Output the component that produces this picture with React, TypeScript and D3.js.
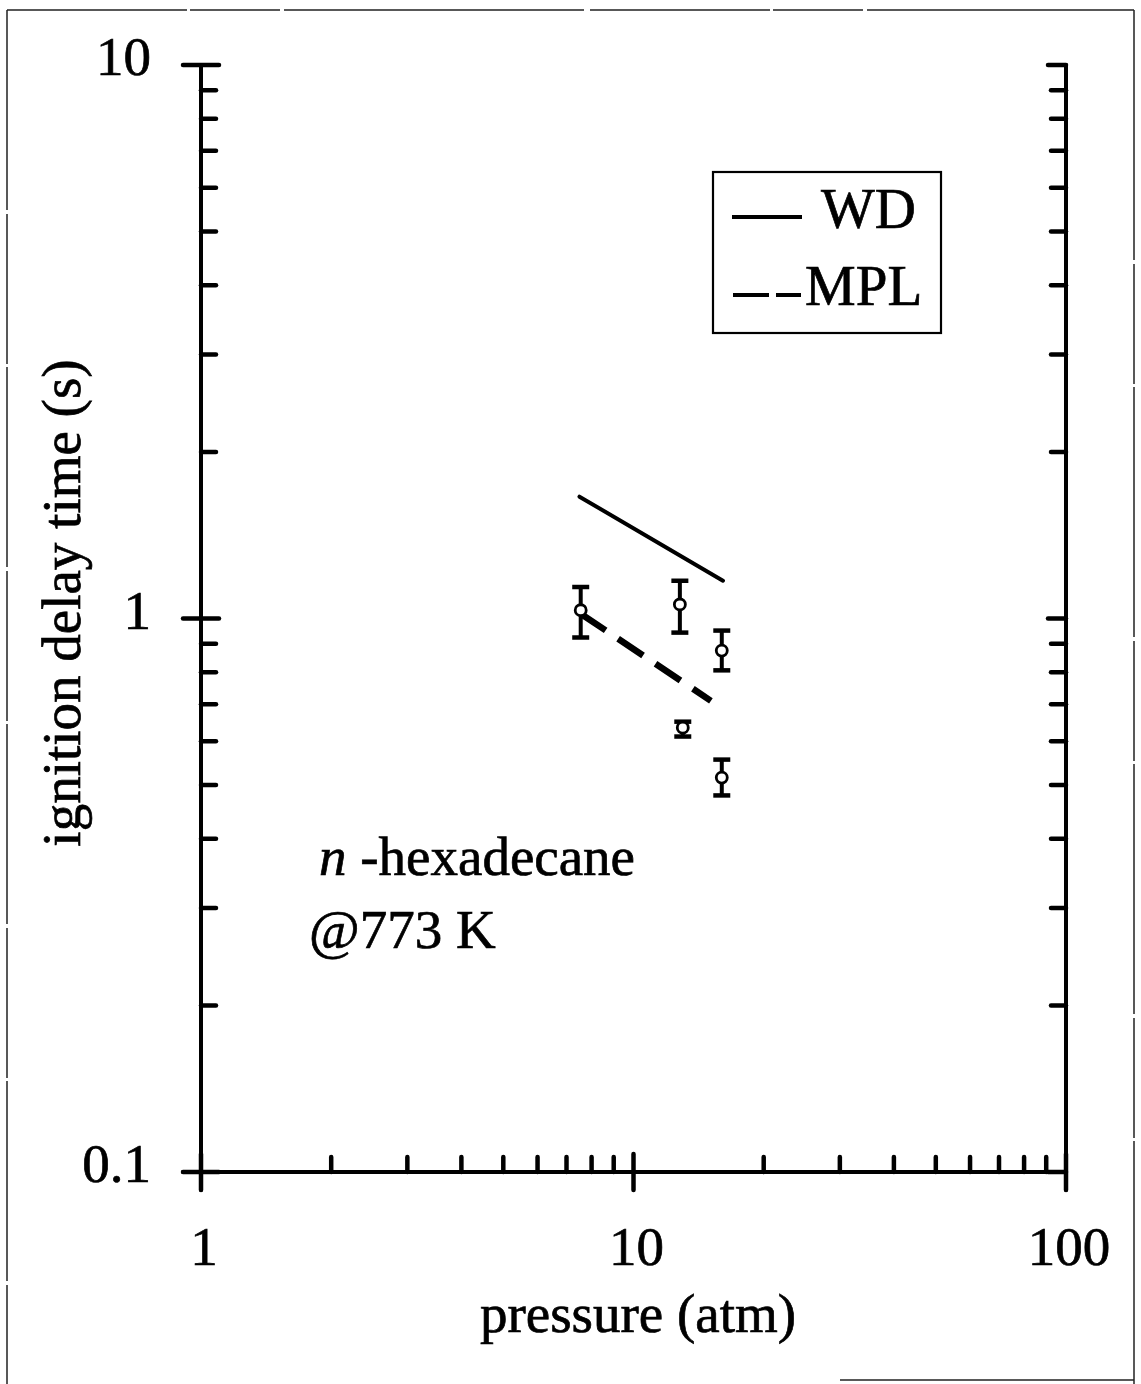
import React from "react";
import * as d3 from "d3";

const W = 1141;
const H = 1384;

// Model curves (pressure atm, ignition delay s)
const wdPressure = [7.5, 16.1];
const wdDelay = [1.66, 1.17];
const mplPressure = [7.55, 15.1];
const mplDelay = [1.02, 0.71];

// Experimental data with error bars
const expPressure = [7.55, 12.8, 16.0, 13.0, 16.0];
const expDelay = [1.035, 1.06, 0.875, 0.635, 0.516];
const expHigh = [1.14, 1.17, 0.951, 0.651, 0.556];
const expLow = [0.924, 0.943, 0.806, 0.612, 0.479];

const xMajor = [1, 10, 100];
const yMajor = [0.1, 1, 10];
const xTickLabels = ["1", "10", "100"];
const yTickLabels = ["0.1", "1", "10"];

const legendNames = ["WD", "MPL"];

const FONT = "'Liberation Serif', 'Times New Roman', serif";

export default function App() {
  const x = d3.scaleLog().domain([1, 100]).range([201, 1066]);
  const y = d3.scaleLog().domain([0.1, 10]).range([1172, 65]);

  const x0 = x(1);
  const x1 = x(100);
  const y0 = y(0.1);
  const y1 = y(10);

  const minors = (lo: number, hi: number) => {
    const out: number[] = [];
    for (let d = lo; d < hi; d *= 10) {
      for (let k = 2; k <= 9; k++) out.push(d * k);
    }
    return out;
  };
  const xMinor = minors(1, 100);
  const yMinor = minors(0.1, 10);

  const line = d3
    .line<[number, number]>()
    .x((d) => x(d[0]))
    .y((d) => y(d[1]));

  const wd = line(wdPressure.map((p, i) => [p, wdDelay[i]]));
  const mpl = line(mplPressure.map((p, i) => [p, mplDelay[i]]));

  const axisW = 4;
  const tickW = 4.5;
  const majorLen = 18;
  const minorLen = 15;

  return (
    <svg
      width={W}
      height={H}
      style={{ display: "block", background: "#fff", position: "absolute", left: 0, top: 0 }}
    >
      <rect x={0} y={0} width={W} height={H} fill="#fff" />
      {/* scan frame */}
      <line x1={7} y1={10} x2={1134} y2={10} stroke="#222" strokeWidth={1.6} strokeDasharray="180 3 90 4 300 6" />
      <line x1={7} y1={10} x2={7} y2={H} stroke="#222" strokeWidth={1.5} strokeDasharray="200 4 150 3" />
      <line x1={1134} y1={10} x2={1134} y2={H} stroke="#222" strokeWidth={1.5} strokeDasharray="250 4 120 3" />
      <line x1={840} y1={1380} x2={1134} y2={1380} stroke="#222" strokeWidth={1.6} />

      {/* axes */}
      <g stroke="#000" strokeLinecap="round">
        <line x1={x0} y1={y1} x2={x0} y2={y0 + majorLen} strokeWidth={axisW} />
        <line x1={x1} y1={y1} x2={x1} y2={y0 + majorLen} strokeWidth={axisW} />
        <line x1={x0 - majorLen} y1={y0} x2={x1} y2={y0} strokeWidth={axisW} />

        {yMajor.map((v) => (
          <g key={"ym" + v}>
            <line x1={x0 - majorLen} y1={y(v)} x2={x0 + majorLen} y2={y(v)} strokeWidth={tickW} />
            <line x1={x1 - majorLen} y1={y(v)} x2={x1} y2={y(v)} strokeWidth={tickW} />
          </g>
        ))}
        {yMinor.map((v) => (
          <g key={"yn" + v}>
            <line x1={x0} y1={y(v)} x2={x0 + minorLen} y2={y(v)} strokeWidth={tickW} />
            <line x1={x1 - minorLen} y1={y(v)} x2={x1} y2={y(v)} strokeWidth={tickW} />
          </g>
        ))}
        {xMajor.map((v) => (
          <line key={"xm" + v} x1={x(v)} y1={y0 - majorLen} x2={x(v)} y2={y0 + majorLen} strokeWidth={tickW} />
        ))}
        {xMinor.map((v) => (
          <line key={"xn" + v} x1={x(v)} y1={y0 - minorLen} x2={x(v)} y2={y0} strokeWidth={tickW} />
        ))}
      </g>

      {/* labels */}
      <g fontFamily={FONT} fontSize={55} fill="#000" stroke="#000" strokeWidth={0.7}>
        {yMajor.map((v, i) => (
          <text key={"yl" + v} x={x0 - 50} y={y(v) + 10} textAnchor="end">
            {yTickLabels[i]}
          </text>
        ))}
        {xMajor.map((v, i) => (
          <text key={"xl" + v} x={x(v) + 3} y={1265} textAnchor="middle">
            {xTickLabels[i]}
          </text>
        ))}
        <text x={638} y={1332} textAnchor="middle">
          pressure (atm)
        </text>
        <text x={80} y={603} textAnchor="middle" transform="rotate(-90 80 603)">
          ignition delay time (s)
        </text>
        <text x={319} y={875}>
          <tspan fontStyle="italic">n</tspan> -hexadecane
        </text>
        <text x={309} y={948}>
          @773 K
        </text>
      </g>

      {/* model lines */}
      <path d={wd ?? ""} fill="none" stroke="#000" strokeWidth={4} strokeLinecap="round" />
      <path d={mpl ?? ""} fill="none" stroke="#000" strokeWidth={6.5} strokeDasharray="30 15" />

      {/* experimental points */}
      <g stroke="#000">
        {expPressure.map((p, i) => {
          const cx = x(p);
          return (
            <g key={"e" + i}>
              <line x1={cx} y1={y(expHigh[i])} x2={cx} y2={y(expLow[i])} strokeWidth={4} />
              <line x1={cx - 8.5} y1={y(expHigh[i])} x2={cx + 8.5} y2={y(expHigh[i])} strokeWidth={4.5} />
              <line x1={cx - 8.5} y1={y(expLow[i])} x2={cx + 8.5} y2={y(expLow[i])} strokeWidth={4.5} />
              <circle cx={cx} cy={y(expDelay[i])} r={5.5} fill="#fff" strokeWidth={2.8} />
            </g>
          );
        })}
      </g>

      {/* legend */}
      <rect x={713} y={172} width={228} height={161} fill="#fff" stroke="#000" strokeWidth={2.2} />
      <line x1={732} y1={217} x2={802} y2={217} stroke="#000" strokeWidth={4} />
      <line x1={733} y1={295} x2={801} y2={295} stroke="#000" strokeWidth={4} strokeDasharray="36 7" />
      <g fontFamily={FONT} fontSize={57} fill="#000" stroke="#000" strokeWidth={0.7}>
        <text x={821} y={228}>{legendNames[0]}</text>
        <text x={805} y={305}>{legendNames[1]}</text>
      </g>
    </svg>
  );
}
